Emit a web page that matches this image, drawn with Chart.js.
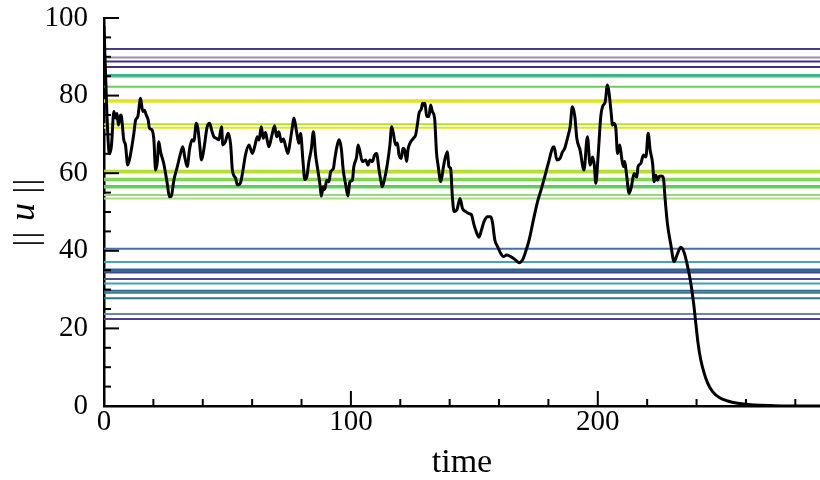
<!DOCTYPE html>
<html>
<head>
<meta charset="utf-8">
<script src="https://cdn.jsdelivr.net/npm/chart.js@4.4.1/dist/chart.umd.min.js"></script>
<style>
  html, body { margin: 0; padding: 0; background: #fff; }
  #wrap { width: 820px; height: 480px; }
</style>
</head>
<body>
<div id="wrap"><canvas id="c" width="820" height="480"></canvas></div>
<script>
// ---- data ----
const times = [0, 1.2, 2.2, 3.0, 4.0, 4.7, 5.3, 5.8, 6.7, 7.1, 8.0, 8.7, 9.6, 10.7, 12.1, 12.8, 13.7, 14.8, 15.7, 16.4, 17.1, 17.9, 18.4, 19.4, 20.2, 20.9, 21.6, 22.2, 22.9, 24.2, 25.6, 26.5, 27.3, 28.3, 29.7, 31.0, 31.9, 32.7, 33.7, 34.7, 35.7, 36.4, 37.4, 38.0, 38.7, 39.5, 40.4, 41.8, 42.8, 43.6, 44.5, 45.5, 46.5, 47.6, 48.1, 49.1, 50.3, 51.3, 52.0, 53.3, 54.0, 55.3, 56.3, 57.3, 58.7, 60.1, 61.2, 62.1, 62.8, 63.7, 64.5, 65.4, 66.1, 66.8, 67.9, 69.1, 69.9, 70.8, 71.8, 72.7, 73.6, 74.5, 75.3, 76.3, 76.9, 78.0, 78.9, 79.6, 80.6, 81.3, 82.1, 83.0, 84.0, 84.8, 85.7, 86.6, 87.5, 88.0, 88.8, 89.4, 90.2, 91.1, 91.8, 92.9, 93.5, 94.5, 95.2, 96.1, 96.9, 97.9, 98.8, 99.6, 100.6, 101.2, 102.3, 102.9, 103.7, 104.6, 105.3, 106.0, 106.9, 107.7, 108.7, 109.6, 110.4, 111.4, 112.1, 112.7, 113.7, 114.8, 115.8, 116.5, 117.2, 118.1, 118.8, 119.5, 120.4, 121.1, 121.8, 122.6, 123.1, 123.9, 125.3, 126.2, 126.9, 127.6, 128.6, 129.0, 129.5, 130.0, 130.7, 131.6, 132.3, 133.0, 133.9, 134.7, 135.3, 136.4, 137.5, 138.0, 139.1, 139.7, 140.4, 141.1, 141.8, 142.9, 144.2, 145.2, 146.5, 147.8, 148.8, 149.9, 151.0, 151.9, 152.9, 153.9, 155.3, 156.6, 157.3, 158.3, 159.4, 160.7, 161.8, 163.1, 164.7, 166.4, 168.1, 169.5, 170.8, 172.2, 173.9, 175.6, 177.2, 178.9, 180.3, 181.6, 182.3, 183.4, 184.7, 185.7, 186.6, 187.7, 188.8, 189.7, 190.7, 191.5, 192.8, 194.4, 195.8, 196.9, 197.9, 198.6, 199.2, 200.1, 201.2, 201.9, 203.0, 203.9, 204.6, 205.3, 206.0, 206.6, 207.3, 208.0, 208.9, 209.7, 210.4, 210.9, 211.6, 212.7, 213.6, 214.7, 215.8, 216.3, 217.4, 218.5, 219.5, 220.4, 221.2, 222.2, 222.8, 223.5, 224.2, 224.8, 225.8, 226.6, 227.2, 228.2, 229.6, 230.9, 232.3, 233.6, 235.0, 236.4, 237.7, 238.8, 239.7, 240.6, 241.7, 243.1, 244.5, 246.5, 249.2, 252.6, 256.6, 262.0, 271.4, 282.3, 290];
const norms = [98, 75, 65, 67, 75.9, 74.2, 75.4, 72.4, 75, 74.5, 68.6, 67.3, 62.1, 64.7, 70.3, 73.7, 74.6, 79.3, 75.9, 76.2, 75, 73.7, 71.6, 71.2, 68.6, 60.8, 63, 68.1, 65.5, 62.5, 57.4, 53.9, 54.2, 58.2, 61.7, 65.1, 66.8, 64.2, 61.7, 66.4, 68.6, 68.3, 72.9, 71.6, 67.7, 63.4, 66, 72, 72.9, 71.1, 69.4, 69, 68.6, 72, 67.3, 68, 70.3, 67.3, 60.8, 58.7, 57, 57.6, 60.8, 64.7, 67.3, 65.1, 67.3, 69.4, 68.5, 72, 69, 70.5, 68.5, 66.8, 69.5, 72.2, 69.4, 70.7, 68.1, 68.8, 66.8, 65.1, 67.7, 72, 74.2, 70.7, 67.7, 70.3, 63, 58.4, 59, 63, 66.4, 70.7, 64.7, 60.8, 57, 54.1, 56.5, 55.8, 58.2, 57.8, 60.4, 61.2, 63.8, 67.3, 68.6, 66.4, 60.8, 57, 54.1, 57.8, 58.2, 61.7, 64.2, 67.3, 65.5, 63, 63.2, 63.4, 62.1, 63.4, 63, 64.7, 65.1, 60.8, 58.2, 56.5, 58.7, 62.5, 67.3, 72, 70.3, 67.3, 67.8, 64.7, 63.8, 66.4, 65.8, 63, 66, 67.7, 69, 69.8, 72.4, 75.4, 76.7, 78, 77.5, 78, 74.6, 74.6, 77.6, 75.9, 74.2, 65.1, 62.1, 57.8, 61.7, 63.4, 65.5, 61.7, 61.2, 53.9, 50.1, 50.5, 53.5, 50.9, 50.1, 49.6, 49.3, 46.6, 44.5, 43.5, 45.4, 47.5, 48.8, 48.8, 47.5, 42.8, 41.1, 39.3, 38.5, 38.9, 38.5, 37.8, 36.9, 37.6, 39.8, 42.8, 47.9, 52.7, 56.1, 60, 63.4, 66.4, 66.8, 63.4, 63.8, 65.5, 66.4, 69, 72, 77.1, 74.6, 69, 66, 60.8, 69.4, 62.1, 64.2, 62, 57.4, 64.2, 74.6, 77.1, 78.4, 82.7, 80.5, 76.3, 72.4, 72.8, 71.6, 65.1, 67.3, 63.8, 61.7, 63, 59.9, 54.8, 56.5, 59.9, 59, 61.7, 62.5, 64.7, 64.2, 70.3, 66, 62.5, 57.8, 59.5, 58.2, 59.1, 59.3, 58.7, 53.9, 47, 41.5, 37.2, 39.3, 40.9, 39.5, 35.9, 31.6, 26.5, 21.3, 16.2, 11.9, 8.4, 5.9, 3.7, 2.2, 1.3, 0.7, 0.3, 0.08, 0.02, 0.01];

// horizontal reference levels (values of ||u||)
const levels = [92.0, 89.8, 88.8, 87.4, 85.3, 84.9, 82.3, 78.8, 78.4, 72.6, 71.7, 60.6, 60.2, 58.6, 58.2, 56.7, 56.3, 54.4, 53.5, 40.5, 37.1, 35.2, 34.8, 34.4, 32.7, 31.6, 29.7, 29.2, 27.8, 23.7, 22.4];
const levelColors = ['#433e85', '#9a8cba', '#46307e', '#472d7b', '#38b58a', '#45b883', '#6ccd5a', '#e0e322', '#e8e419', '#bade28', '#e5e419', '#addc30', '#b5de2b', '#86d549', '#7ad151', '#5ec962', '#6ccd5a', '#98d87f', '#a8db86', '#4a6fa0', '#4aa3b0', '#33638d', '#2e6e8e', '#404a8a', '#4a4f90', '#45a0b0', '#2f6b8e', '#3a7a96', '#2a788e', '#6a86aa', '#4f3f8f'];

const xRange = [0, 290];
const yRange = [0, 100];
const xMajorTicks = [0, 100, 200];
const xMinorTicks = [20, 40, 60, 80, 120, 140, 160, 180, 220, 240, 260, 280];
const yMajorTicks = [0, 20, 40, 60, 80, 100];
const yMinorTicks = [5, 10, 15, 25, 30, 35, 45, 50, 55, 65, 70, 75, 85, 90, 95];

// ---- chart ----
const SERIF = '"Liberation Serif", "DejaVu Serif", serif';

const datasets = [{
  data: times.map((t, i) => ({x: t, y: norms[i]})),
  borderColor: '#000',
  borderWidth: 3,
  pointRadius: 0,
  cubicInterpolationMode: 'monotone',
  order: 0
}];
levels.forEach((lv, i) => {
  datasets.push({
    data: [{x: xRange[0], y: lv}, {x: xRange[1], y: lv}],
    borderColor: levelColors[i],
    borderWidth: 2,
    pointRadius: 0,
    order: 1
  });
});

const inwardTicks = {
  id: 'inwardTicks',
  afterDatasetsDraw(chart) {
    const {ctx, scales: {x, y}, chartArea: a} = chart;
    ctx.save();
    ctx.strokeStyle = '#000';
    ctx.lineWidth = 2;
    const seg = (x1, y1, x2, y2) => { ctx.beginPath(); ctx.moveTo(x1, y1); ctx.lineTo(x2, y2); ctx.stroke(); };
    xMajorTicks.forEach(v => { const p = x.getPixelForValue(v); seg(p, a.bottom, p, a.bottom - 15); });
    xMinorTicks.forEach(v => { const p = x.getPixelForValue(v); seg(p, a.bottom, p, a.bottom - 7); });
    yMajorTicks.forEach(v => { const p = y.getPixelForValue(v); seg(a.left, p, a.left + 15, p); });
    yMinorTicks.forEach(v => { const p = y.getPixelForValue(v); seg(a.left, p, a.left + 7, p); });
    ctx.restore();
  }
};

const yTitle = {
  id: 'yTitle',
  afterDraw(chart) {
    const {ctx, chartArea: a} = chart;
    const cy = (a.top + a.bottom) / 2;
    ctx.save();
    ctx.translate(28, cy);
    ctx.rotate(-Math.PI / 2);
    ctx.fillStyle = '#000';
    ctx.textAlign = 'center';
    ctx.textBaseline = 'middle';
    ctx.font = '34px ' + SERIF;
    [-31, -23, 22, 30].forEach(o => ctx.fillText('|', o, 0));
    ctx.font = 'italic 36px ' + SERIF;
    ctx.fillText('u', 0, -3);
    ctx.restore();
  }
};

new Chart(document.getElementById('c'), {
  type: 'line',
  data: {datasets},
  options: {
    responsive: false,
    animation: false,
    events: [],
    layout: {padding: {top: 18, right: 0, left: 0, bottom: 0}},
    plugins: {legend: {display: false}, tooltip: {enabled: false}},
    scales: {
      x: {
        type: 'linear',
        min: xRange[0], max: xRange[1],
        afterBuildTicks: s => { s.ticks = xMajorTicks.map(v => ({value: v})); },
        afterFit: s => { s.height = 74; s.paddingLeft = 0; s.paddingRight = 0; },
        grid: {display: false},
        border: {display: true, color: '#000', width: 2.5},
        ticks: {color: '#000', padding: -9, maxRotation: 0, font: {family: SERIF, size: 29}},
        title: {display: true, text: 'time', color: '#000', font: {family: SERIF, size: 34}, padding: {top: 0, bottom: -3}}
      },
      y: {
        type: 'linear',
        min: yRange[0], max: yRange[1],
        afterBuildTicks: s => { s.ticks = yMajorTicks.map(v => ({value: v})); },
        afterFit: s => { s.width = 104; s.paddingTop = 0; s.paddingBottom = 0; },
        grid: {display: false},
        border: {display: true, color: '#000', width: 2.5},
        ticks: {color: '#000', padding: 8, font: {family: SERIF, size: 29}}
      }
    }
  },
  plugins: [inwardTicks, yTitle]
});
</script>
</body>
</html>
